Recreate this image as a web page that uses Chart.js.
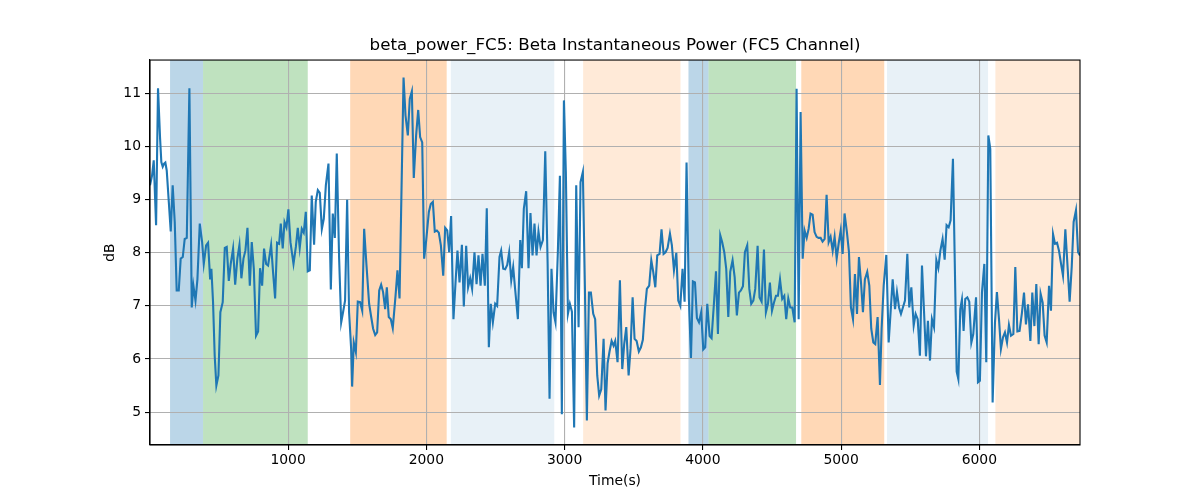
<!DOCTYPE html>
<html>
<head>
<meta charset="utf-8">
<script src="https://cdn.jsdelivr.net/npm/chart.js@4.4.1/dist/chart.umd.min.js"></script>
<style>
  html, body { margin: 0; padding: 0; background: #fff; }
  #wrap { width: 1200px; height: 500px; }
</style>
</head>
<body>
<div id="wrap"><canvas id="betaChart"></canvas></div>
<script>
// tiempos (s) y potencia beta (dB)
const timeSec = [
  1, 16, 28, 45, 59, 74, 83, 93, 103, 112, 122, 137, 151, 165, 180, 194, 209, 223, 238, 252, 267, 286,
  303, 315, 330, 344, 361, 378, 390, 407, 421, 436, 445, 457, 469, 481, 496, 510, 527, 542, 556, 571,
  585, 602, 617, 633, 648, 662, 677, 691, 706, 723, 737, 752, 768, 783, 797, 812, 826, 841, 855,
  877, 891, 906, 920, 935, 947, 961, 974, 988, 1002, 1017, 1039, 1056, 1070, 1084, 1099, 1113, 1128,
  1142, 1157, 1171, 1188, 1200, 1215, 1229, 1244, 1258, 1273, 1292, 1309, 1323, 1338, 1352, 1369,
  1384, 1398, 1412, 1427, 1441, 1456, 1463, 1475, 1490, 1504, 1521, 1536, 1550, 1567, 1586, 1601,
  1615, 1630, 1644, 1659, 1673, 1687, 1702,
  1714, 1728, 1743, 1757, 1777, 1791, 1806, 1835, 1849, 1866, 1880, 1895, 1909, 1926, 1941, 1955,
  1970, 1984, 1999, 2018, 2032, 2047, 2061, 2076, 2090, 2105, 2122, 2136, 2151, 2165, 2179, 2196,
  2211, 2225, 2240, 2257, 2271, 2288, 2302, 2317, 2331, 2348, 2363, 2377, 2392, 2406, 2423, 2437,
  2452, 2466, 2481, 2498, 2512, 2529,
  2541, 2556, 2570, 2585, 2599, 2614, 2628, 2643, 2662, 2679, 2691, 2705, 2722, 2739, 2753, 2768,
  2782, 2797, 2811, 2826, 2843, 2860, 2877, 2891, 2905, 2920, 2934, 2951, 2966, 2980, 2995, 3009,
  3024, 3038, 3053, 3069, 3084, 3101, 3115, 3132, 3147, 3161, 3176, 3190, 3207, 3221, 3236, 3250,
  3265, 3282, 3296, 3311, 3325, 3340, 3354, 3366,
  3383, 3400, 3417, 3431, 3446, 3463, 3477, 3492, 3506, 3521, 3537, 3552, 3566, 3581, 3595, 3612,
  3627, 3641, 3656, 3670, 3687, 3701, 3716, 3730, 3745, 3762, 3776, 3791, 3808, 3822, 3837, 3853,
  3868, 3882, 3899, 3914, 3928, 3943, 3957, 3972, 3988, 4003, 4017, 4032, 4049, 4063, 4080, 4095,
  4109, 4126, 4140, 4155, 4169, 4184, 4198,
  4215, 4230, 4246, 4261, 4275, 4290, 4304, 4321, 4336, 4350, 4365, 4379, 4396, 4410, 4425, 4442,
  4456, 4471, 4485, 4500, 4514, 4529, 4543, 4558, 4574, 4589, 4603, 4618, 4632, 4647, 4664, 4678,
  4693, 4707, 4722, 4736, 4751, 4765, 4779, 4794, 4808, 4823, 4837, 4852, 4866, 4881, 4895, 4910,
  4924, 4939, 4953, 4968, 4982, 4997, 5011, 5025,
  5042, 5057, 5071, 5086, 5100, 5115, 5129, 5144, 5158, 5172, 5189, 5204, 5218, 5233, 5247, 5264,
  5281, 5293, 5308, 5327, 5344, 5358, 5373, 5390, 5404, 5419, 5433, 5447, 5462, 5479, 5493, 5508,
  5525, 5539, 5554, 5570, 5585, 5599, 5614, 5628, 5643, 5657, 5672, 5689, 5703, 5718, 5734, 5749,
  5763, 5778, 5792, 5809, 5836, 5848, 5862,
  5874, 5886, 5898, 5913, 5927, 5942, 5956, 5976, 5990, 6004, 6019, 6036, 6050, 6065, 6079, 6096,
  6113, 6127, 6142, 6156, 6171, 6185, 6200, 6214, 6229, 6246, 6260, 6275, 6291, 6308, 6323, 6337,
  6352, 6369, 6383, 6398, 6412, 6429, 6443, 6458, 6472, 6487, 6504, 6518, 6533, 6547, 6562, 6576,
  6591, 6605, 6622, 6639, 6653, 6668, 6682, 6699, 6714, 6728
];
const betaDb = [
  9.27, 9.46, 9.74, 8.52, 11.1, 10.15, 9.71, 9.62, 9.68, 9.70, 9.55, 8.96, 8.40, 9.27, 8.58, 7.29, 7.29, 7.89, 7.92, 8.26, 8.28, 11.1,
  6.97, 7.38, 7.1, 7.5, 8.55, 8.2, 7.79, 8.14, 8.19, 7.5, 7.7, 7.07, 6.06, 5.5, 5.69, 6.88, 7.07, 8.09, 8.11, 7.47,
  7.79, 8.08, 7.4, 7.89, 8.15, 7.52, 7.89, 8.04, 8.47, 7.38, 8.2, 7.7, 6.44, 6.52, 7.71, 7.38, 8.08, 7.79, 7.76,
  8.15, 7.64, 7.14, 8.19, 8.17, 8.55, 8.08, 8.58, 8.48, 8.82, 8.2, 7.79, 8.11, 8.47, 8.09, 8.45, 8.38, 8.77,
  7.65, 7.67, 9.08, 8.15, 8.96, 9.18, 9.13, 8.45, 8.64, 9.27, 9.68, 7.31, 8.74, 8.28, 9.87, 7.89,
  6.69, 6.89, 7.1, 9.0, 6.88, 6.19, 5.48, 6.31, 6.13, 7.08, 7.07, 6.91, 8.45, 7.76, 7.04, 6.79,
  6.57, 6.45, 6.5, 7.29, 7.4, 7.26, 6.94,
  7.35, 6.79, 6.75, 6.58, 7.19, 7.67, 7.14, 11.3, 10.59, 10.21, 10.9, 11.04, 9.41, 10.21, 10.69, 10.18,
  10.08, 7.89, 8.24, 8.77, 8.92, 8.96, 8.40, 8.42, 8.38, 8.14, 7.57, 8.47, 8.42, 8.01, 8.69, 6.75,
  7.44, 8.04, 7.44, 8.15, 6.99, 8.13, 7.35, 7.52, 7.32, 8.01, 7.41, 7.95, 7.38, 7.98, 7.38, 8.84,
  6.22, 7.04, 6.69, 7.04, 7.0, 7.92,
  8.04, 7.70, 7.69, 7.77, 8.01, 7.48, 7.73, 7.29, 6.75, 8.24, 7.71, 8.83, 9.16, 7.71, 8.75, 7.95,
  8.55, 7.95, 8.40, 8.11, 8.24, 9.91, 7.82, 5.25, 7.70, 6.88, 6.69, 8.01, 9.45, 4.96, 10.87, 9.52,
  6.85, 7.04, 6.89, 4.71, 9.27, 6.6, 9.33, 9.52, 7.32, 4.84, 7.25, 7.25, 6.85, 6.75, 5.69, 5.31,
  5.43, 6.38, 5.03, 5.92, 6.14, 6.34, 6.25, 6.34,
  5.94, 7.48, 5.81, 6.28, 6.6, 5.69, 6.19, 7.16, 6.38, 6.34, 6.14, 6.22, 6.36, 6.94, 7.32, 7.38,
  7.86, 7.64, 7.35, 7.95, 7.98, 8.44, 7.98, 8.01, 8.09, 8.36, 8.14, 7.67, 8.0, 7.1, 7.0, 7.70,
  7.08, 9.70, 7.13, 6.02, 7.46, 7.44, 6.77, 6.69, 6.88, 6.18, 6.22, 7.04, 6.43, 6.39, 7.04, 7.65,
  6.47, 8.33, 8.2, 8.01, 7.7, 6.79, 7.64,
  7.86, 7.54, 6.82, 7.25, 7.29, 7.37, 8.01, 8.14, 7.32, 7.04, 7.1, 7.32, 8.13, 7.16, 7.08, 8.06,
  6.88, 7.04, 7.44, 6.91, 7.06, 7.19, 7.19, 7.5, 7.13, 7.19, 6.75, 7.14, 6.97, 6.97, 6.69, 11.09,
  6.75, 10.65, 7.89, 8.42, 8.28, 8.45, 8.74, 8.72, 8.39, 8.3, 8.28, 8.28, 8.21, 8.26, 9.09, 8.2,
  8.3, 8.04, 8.3, 7.89, 8.17, 8.42, 7.98, 8.74,
  8.39, 8.01, 6.97, 6.75, 7.6, 6.85, 7.92, 7.44, 6.88, 7.5, 7.64, 7.38, 6.57, 6.31, 6.28, 6.79,
  5.51, 6.57, 7.38, 7.96, 6.31, 6.88, 7.5, 6.94, 7.26, 6.97, 6.85, 6.97, 7.1, 7.98, 6.97, 7.35,
  6.63, 6.85, 6.75, 6.06, 7.76, 6.94, 6.05, 6.72, 5.97, 6.75, 6.6, 7.86, 7.71, 8.04, 8.26, 7.87,
  8.52, 8.48, 8.61, 9.77, 5.76, 5.62, 6.94,
  7.12, 6.53, 7.13, 7.16, 7.08, 6.31, 6.47, 7.16, 5.56, 5.59, 7.26, 7.79, 5.94, 10.21, 9.96, 5.18,
  6.69, 7.26, 6.75, 6.19, 6.41, 6.5, 6.31, 6.64, 6.44, 6.47, 7.73, 6.52, 6.53, 6.87, 7.25, 6.65,
  7.03, 6.34, 7.25, 6.62, 7.41, 6.28, 7.23, 7.06, 6.44, 6.31, 7.38, 6.91, 8.35, 8.17, 8.19, 8.04,
  7.79, 7.57, 8.44, 7.7, 7.08, 7.73, 8.58, 8.8, 8.01, 7.95
];

// fases sombreadas (inicio, fin, tipo)
const phaseStart = [146, 385, 1449, 2177, 3134, 3896, 4041, 4712, 5332, 6116];
const phaseEnd   = [385, 1142, 2147, 2925, 3838, 4041, 4674, 5312, 6063, 6740];
const phaseKind  = ["blue", "green", "orange", "lightblue", "lightorange",
                    "blue", "green", "orange", "lightblue", "lightorange"];

const xTicks = [1000, 2000, 3000, 4000, 5000, 6000];
const yTicks = [5, 6, 7, 8, 9, 10, 11];

// colores de las fases
const phaseColors = {
    blue: "rgba(31,119,180,0.3)",
    green: "rgba(44,160,44,0.3)",
    orange: "rgba(255,127,14,0.3)",
    lightblue: "rgba(31,119,180,0.1)",
    lightorange: "rgba(255,127,14,0.16)"
};

const FONT = "'DejaVu Sans', sans-serif";

const points = timeSec.map((t, i) => ({ x: t, y: betaDb[i] }));

// Plugin: sombreado bajo la rejilla y marco de los ejes
const phasePlugin = {
    id: "phases",
    beforeDraw(chart) {
        const { ctx, chartArea, scales } = chart;
        ctx.save();
        ctx.beginPath();
        ctx.rect(chartArea.left, chartArea.top, chartArea.width, chartArea.height);
        ctx.clip();
        for (let i = 0; i < phaseStart.length; i++) {
            const x0 = scales.x.getPixelForValue(phaseStart[i]);
            const x1 = scales.x.getPixelForValue(phaseEnd[i]);
            ctx.fillStyle = phaseColors[phaseKind[i]];
            ctx.fillRect(x0, chartArea.top, x1 - x0, chartArea.height);
        }
        ctx.restore();
    },
    afterDraw(chart) {
        const { ctx, chartArea } = chart;
        ctx.save();
        ctx.strokeStyle = "#000";
        ctx.lineWidth = 1.1;
        ctx.strokeRect(chartArea.left, chartArea.top, chartArea.width, chartArea.height);
        ctx.restore();
    }
};

const ctx = document.getElementById("betaChart").getContext("2d");

new Chart(ctx, {
    type: "line",
    data: {
        datasets: [{
            label: "beta_power_FC5",
            data: points,
            borderColor: "#1f77b4",
            borderWidth: 2.1,
            pointRadius: 0,
            tension: 0,
            fill: false
        }]
    },
    options: {
        responsive: true,
        maintainAspectRatio: false,
        animation: false,
        devicePixelRatio: 1,
        // padding izquierda 30 + eje derecho vacio de 120: el titulo queda centrado sobre el area
        layout: { padding: { left: 30, right: 0, top: 0, bottom: 0 } },
        scales: {
            x: {
                type: "linear",
                min: timeSec[0],
                max: timeSec[timeSec.length - 1],
                afterBuildTicks: (scale) => { scale.ticks = xTicks.map(v => ({ value: v })); },
                afterFit: (scale) => { scale.height = 55; },
                ticks: {
                    color: "#000",
                    font: { family: FONT, size: 13.9 },
                    padding: 2,
                    maxRotation: 0,
                    callback: (v) => String(v)
                },
                grid: { color: "#b0b0b0", lineWidth: 1.1, tickLength: 5, tickColor: "#000", tickWidth: 1.1 },
                border: { display: true, color: "#000", width: 1.1 },
                title: {
                    display: true,
                    text: "Time(s)",
                    color: "#000",
                    font: { family: FONT, size: 13.9 },
                    padding: { top: 0, bottom: 10.7 }
                }
            },
            y: {
                type: "linear",
                position: "left",
                min: 4.38,
                max: 11.63,
                afterBuildTicks: (scale) => { scale.ticks = yTicks.map(v => ({ value: v })); },
                afterFit: (scale) => { scale.width = 120; },
                ticks: {
                    color: "#000",
                    font: { family: FONT, size: 13.9 },
                    padding: 4,
                    callback: (v) => String(v)
                },
                grid: { color: "#b0b0b0", lineWidth: 1.1, tickLength: 5, tickColor: "#000", tickWidth: 1.1 },
                border: { display: true, color: "#000", width: 1.1 },
                title: {
                    display: true,
                    text: "dB",
                    color: "#000",
                    font: { family: FONT, size: 13.9 },
                    padding: { top: 71.7, bottom: 0 }
                }
            },
            yRight: {
                type: "linear",
                position: "right",
                min: 4.38,
                max: 11.63,
                afterFit: (scale) => { scale.width = 120; },
                ticks: { display: false },
                grid: { display: false, drawTicks: false },
                border: { display: false }
            }
        },
        plugins: {
            legend: { display: false },
            tooltip: { enabled: false },
            title: {
                display: true,
                text: "beta_power_FC5: Beta Instantaneous Power (FC5 Channel)",
                color: "#000",
                font: { family: FONT, size: 16.7, weight: "normal" },
                padding: { top: 36, bottom: 4 }
            }
        }
    },
    plugins: [phasePlugin]
});
</script>
</body>
</html>
